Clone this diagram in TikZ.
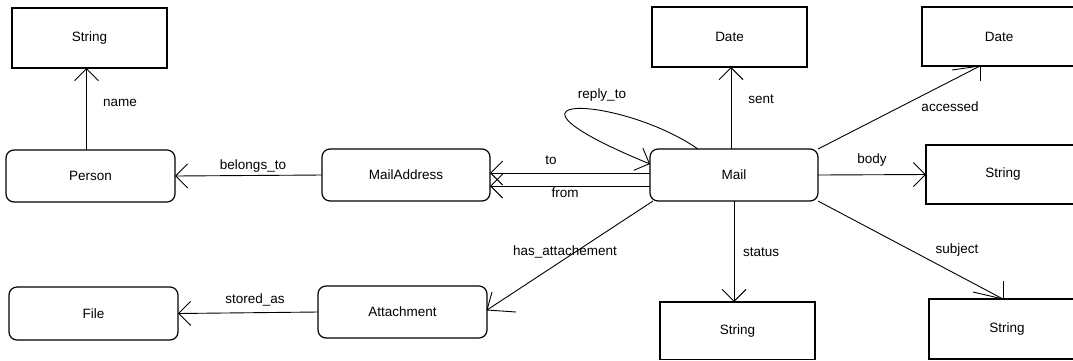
\documentclass[tikz,border=0pt]{standalone}
\usepackage{fontspec}
\setmainfont{Liberation Sans}
\usetikzlibrary{arrows.meta}
\begin{document}
\begin{tikzpicture}[x=1pt,y=-1pt,
  font=\fontsize{13.5}{16}\selectfont,
  typebox/.style={draw, line width=1.2pt, rectangle, inner sep=0pt, outer sep=0pt},
  classbox/.style={typebox, rounded corners=8pt},
  conn/.style={line width=0.9pt},
  arr/.style={conn, -{Straight Barb[length=12pt,width=24pt,line width=0.9pt]}},
  lbl/.style={inner sep=0pt}]
\useasboundingbox[fill=white] (0,0) rectangle (1073,360);

% type boxes
\node[typebox, minimum width=155pt, minimum height=60pt] (s1) at (89.5,38) {String};
\node[typebox, minimum width=155pt, minimum height=60pt] (date1) at (729.5,37) {Date};
\node[typebox, minimum width=154pt, minimum height=59pt] (date2) at (999,36.5) {Date};
\node[typebox, minimum width=154pt, minimum height=59pt] (body) at (1003,174.5) {String};
\node[typebox, minimum width=155pt, minimum height=57.5pt] (status) at (737.5,330.75) {String};
\node[typebox, minimum width=156pt, minimum height=60pt] (subject) at (1007,329) {String};

% class boxes
\node[classbox, minimum width=169pt, minimum height=52pt] (person) at (90.5,176) {Person};
\node[classbox, minimum width=168pt, minimum height=52pt] (addr) at (406,175) {MailAddress};
\node[classbox, minimum width=168pt, minimum height=52pt] (mail) at (734,175) {Mail};
\node[classbox, minimum width=169pt, minimum height=53pt] (file) at (93.5,313.5) {File};
\node[classbox, minimum width=169pt, minimum height=52pt] (attach) at (402.5,312) {Attachment};

% connectors
\draw[arr] ([xshift=-4pt]person.north) -- ([xshift=-4pt]person.north |- s1.south);
\draw[arr] (addr.west) -- (person.east);
\draw[arr] ([yshift=2pt]mail.west) -- ([yshift=2pt]addr.east);
\draw[arr] ([yshift=-11pt]mail.west) -- ([yshift=-11pt]addr.east);
\draw[arr] ([xshift=-36pt]mail.north) .. controls (620,95) and (470,90) .. ([yshift=11pt]mail.west);
\draw[arr] ([xshift=-3pt]mail.north) -- ([xshift=-3pt]mail.north |- date1.south);
\draw[arr] (mail.east) -- (body.west);
\draw[arr] (mail.south) -- (mail.south |- status.north);
\draw[arr] (attach.west) -- (file.east);

% connectors with skewed heads
\coordinate (accTip) at ([xshift=-19pt]date2.south);
\draw[conn] (mail.north east) -- (accTip);
\draw[conn] (accTip) -- ++(0,15);
\draw[conn] (accTip) -- ++(-28,4);

\coordinate (subjTip) at ([xshift=-4pt]subject.north);
\draw[conn] (mail.south east) -- (subjTip);
\draw[conn] (subjTip) -- ++(0,-18);
\draw[conn] (subjTip) -- ++(-30,-7);

\coordinate (attTip) at ([yshift=2pt]attach.east);
\draw[conn] ([xshift=3pt]mail.south west) -- (attTip);
\draw[conn] (attTip) -- ++(5,-18);
\draw[conn] (attTip) -- ++(29,2);

% labels
\node[lbl] (lname) at (120,103) {name};
\node[lbl] (lbelongs) at (253,166) {belongs\_to};
\node[lbl] (lto) at (551,160) {to};
\node[lbl] (lfrom) at (565,193) {from};
\node[lbl] (lreply) at (602,95) {reply\_to};
\node[lbl] (lsent) at (761,99) {sent};
\node[lbl] (laccessed) at (950,107) {accessed};
\node[lbl] (lbody) at (872,160) {body};
\node[lbl] (lstatus) at (761,252) {status};
\node[lbl] (lsubject) at (957,250) {subject};
\node[lbl] (lhas) at (565,252) {has\_attachement};
\node[lbl] (lstored) at (255,300) {stored\_as};
\end{tikzpicture}
\end{document}
